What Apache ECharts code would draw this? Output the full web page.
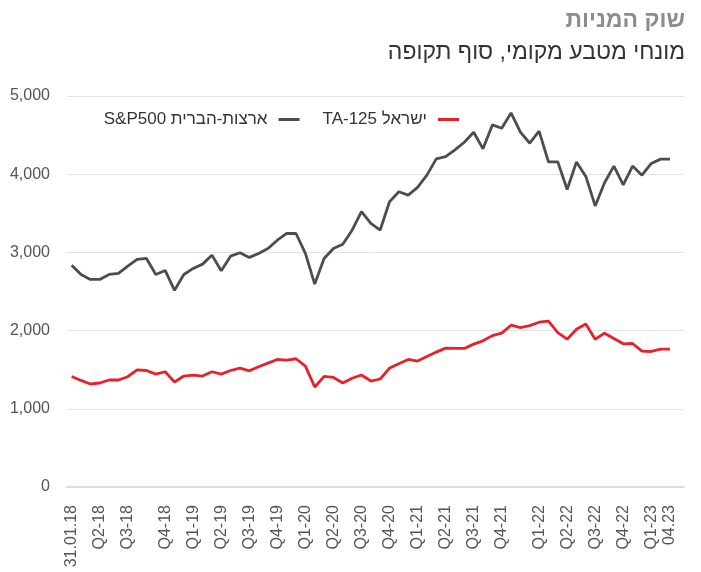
<!DOCTYPE html>
<html>
<head>
<meta charset="utf-8">
<script src="https://cdn.jsdelivr.net/npm/echarts@6/dist/echarts.min.js"></script>
<style>
  html, body { margin: 0; padding: 0; background: #fff; }
  #chart { width: 701px; height: 572px; }
</style>
</head>
<body>
<div id="chart"></div>
<script>
// שוק המניות — מדדים חודשיים, 01.2018 עד 04.2023
var FONT = "'Liberation Sans', Arial, 'DejaVu Sans', sans-serif";

var seriesNames = ['S&P500 ארצות-הברית', 'TA-125 ישראל'];

var sp500 = [
  2837, 2718, 2654, 2654, 2718, 2731, 2825, 2910, 2923, 2718, 2769, 2514,
  2718, 2795, 2850, 2965, 2765, 2952, 2995, 2936, 2987, 3050, 3156, 3242,
  3242, 2987, 2595, 2923, 3050, 3105, 3284, 3520, 3371, 3286, 3648, 3776,
  3733, 3831, 3988, 4196, 4226, 4311, 4409, 4537, 4324, 4630, 4588, 4783,
  4537, 4396, 4550, 4157, 4157, 3805, 4157, 3972, 3594, 3891, 4104, 3862,
  4104, 3988, 4138, 4193, 4193
];

var ta125 = [
  1414, 1363, 1317, 1330, 1368, 1368, 1410, 1499, 1490, 1444, 1474, 1343,
  1419, 1432, 1419, 1474, 1444, 1490, 1521, 1486, 1537, 1584, 1631, 1622,
  1640, 1546, 1279, 1414, 1401, 1330, 1390, 1432, 1355, 1381, 1521, 1576,
  1631, 1610, 1669, 1725, 1776, 1772, 1772, 1827, 1869, 1936, 1967, 2069,
  2038, 2064, 2107, 2120, 1975, 1890, 2018, 2085, 1890, 1967, 1898, 1831,
  1835, 1737, 1733, 1763, 1763
];

// category slots on the axis (one empty slot after the last month)
var slotCount = 66;
var tickLabels = ['31.01.18', 'Q2-18', 'Q3-18', 'Q4-18', 'Q1-19', 'Q2-19', 'Q3-19', 'Q4-19',
  'Q1-20', 'Q2-20', 'Q3-20', 'Q4-20', 'Q1-21', 'Q2-21', 'Q3-21', 'Q4-21',
  'Q1-22', 'Q2-22', 'Q3-22', 'Q4-22', 'Q1-23', '04.23'];
var tickIndex = [0, 3, 6, 10, 13, 16, 19, 22, 25, 28, 31, 34, 37, 40, 43, 46, 50, 53, 56, 59, 62, 64];

var categories = [];
for (var i = 0; i < slotCount; i++) categories.push('');
tickIndex.forEach(function(idx, k) { categories[idx] = tickLabels[k]; });

var chart = echarts.init(document.getElementById('chart'));
chart.setOption({
  animation: false,
  textStyle: { fontFamily: FONT },
  title: [
    {
      text: 'שוק המניות', right: 16, top: 9, padding: 0,
      textStyle: { fontSize: 23, fontWeight: 'bold', color: '#8c8c8c', fontFamily: FONT }
    },
    {
      text: 'מונחי מטבע מקומי, סוף תקופה', right: 16, top: 41, padding: 0,
      textStyle: { fontSize: 23, fontWeight: 'normal', color: '#333', fontFamily: FONT }
    }
  ],
  legend: {
    data: seriesNames,
    right: 237, top: 106,
    align: 'right',
    icon: 'rect', itemWidth: 21, itemHeight: 3, itemGap: 23,
    textStyle: { fontSize: 17, color: '#333', fontFamily: FONT, padding: [0, 6, 0, 0] }
  },
  grid: { left: 67, right: 17, top: 96, bottom: 85 },
  xAxis: {
    type: 'category',
    data: categories,
    boundaryGap: true,
    axisLine: { lineStyle: { color: '#dcdcdc', width: 2 } },
    axisTick: { interval: 0, length: 7, lineStyle: { color: '#d6d6d6' } },
    axisLabel: { interval: 0, rotate: 90, margin: 18, fontSize: 16, color: '#555', fontFamily: FONT }
  },
  yAxis: {
    type: 'value', min: 0, max: 5000, interval: 1000,
    axisLine: { show: false }, axisTick: { show: false },
    splitLine: { lineStyle: { color: '#e3e3e3', width: 1 } },
    axisLabel: {
      margin: 17, fontSize: 16, color: '#555', fontFamily: FONT,
      formatter: function(v) { return v.toLocaleString('en-US'); }
    }
  },
  series: [
    {
      name: seriesNames[0], type: 'line', data: sp500,
      showSymbol: false, symbol: 'none',
      itemStyle: { color: '#4d4d4d' },
      lineStyle: { color: '#4d4d4d', width: 2.8 }
    },
    {
      name: seriesNames[1], type: 'line', data: ta125,
      showSymbol: false, symbol: 'none',
      itemStyle: { color: '#e8202a' },
      lineStyle: { color: '#e8202a', width: 2.8 }
    }
  ]
});
</script>
</body>
</html>
